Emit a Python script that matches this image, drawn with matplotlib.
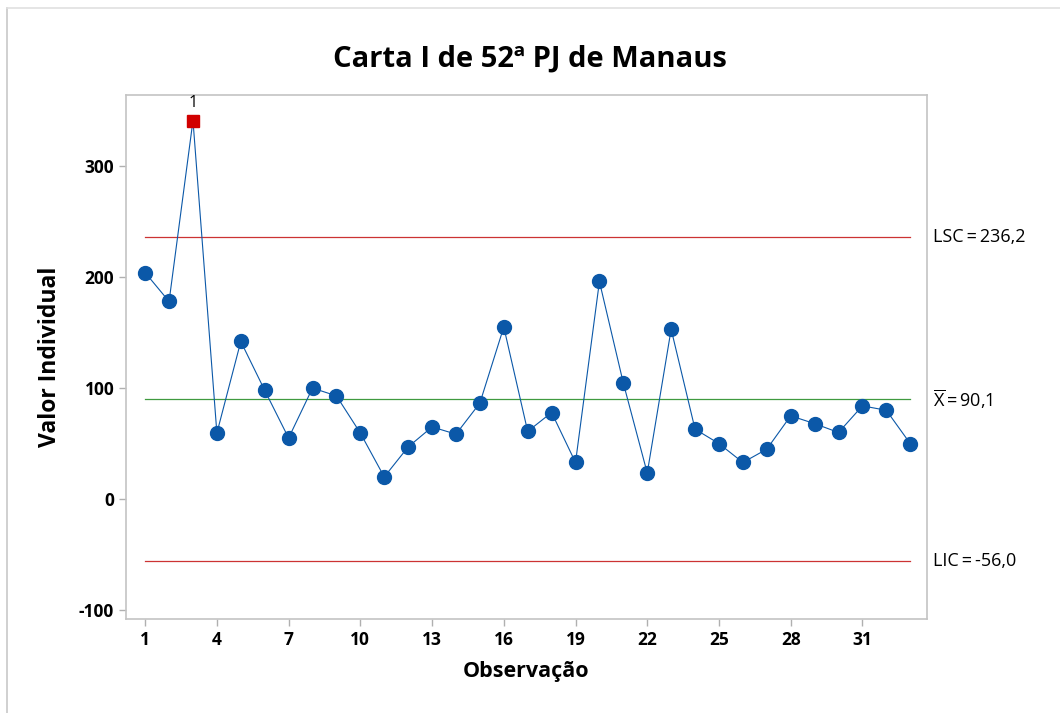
import matplotlib.pyplot as plt
from matplotlib.lines import Line2D

plt.rcParams['font.family'] = ['Open Sans', 'DejaVu Sans']
plt.rcParams['axes.unicode_minus'] = False
plt.rcParams['mathtext.fontset'] = 'custom'
plt.rcParams['mathtext.rm'] = 'Open Sans'

obs = list(range(1, 34))
values = [204, 178, 341, 59.5, 142, 98, 55, 100, 93, 59.5,
          20, 47, 65, 58.5, 86.5, 155, 61, 78, 33, 196,
          104.5, 23.5, 153, 63, 50, 33, 45, 75, 68, 60,
          84, 80, 50]
flagged = [3]
ucl = 236.2
center = 90.1
lcl = -56.0
xticks = [1, 4, 7, 10, 13, 16, 19, 22, 25, 28, 31]
yticks = [-100, 0, 100, 200, 300]

fig = plt.figure(figsize=(10.6, 7.13), dpi=100)
ax = fig.add_axes([0.1189, 0.1318, 0.7556, 0.735])

# border lines of the graph window
fig.add_artist(Line2D([7/1060, 7/1060], [0, 1 - 8/713], transform=fig.transFigure, color='#c8c8c8', lw=1.2))
fig.add_artist(Line2D([7/1060, 1], [1 - 8/713, 1 - 8/713], transform=fig.transFigure, color='#e0e0e0', lw=1.2))

blue = '#0b58a8'
ax.plot(obs, values, color=blue, lw=0.8, zorder=2)
normal = [(o, v) for o, v in zip(obs, values) if o not in flagged]
ax.plot([p[0] for p in normal], [p[1] for p in normal], 'o', color=blue, ms=10, zorder=3)
for f in flagged:
    ax.plot(f, values[f - 1], 's', color='#d10000', ms=8.5, zorder=4)
    ax.text(f, values[f - 1] + 9, '1', ha='center', va='bottom', fontsize=11.5)

ax.plot([obs[0], obs[-1]], [ucl, ucl], color='#cc3333', lw=0.9, zorder=1)
ax.plot([obs[0], obs[-1]], [lcl, lcl], color='#cc3333', lw=0.9, zorder=1)
ax.plot([obs[0], obs[-1]], [center, center], color='#3f9a3f', lw=0.9, zorder=1)

ax.set_xlim(0.2, 33.7)
ax.set_ylim(-108, 364)
ax.set_xticks(xticks)
ax.set_yticks(yticks)
ax.tick_params(axis='both', colors='#b0b0b0', length=5, width=1, labelcolor='black', labelsize=12.5)
for lab in ax.get_xticklabels() + ax.get_yticklabels():
    lab.set_fontweight('bold')
for s in ax.spines.values():
    s.set_color('#c4c4c4')
    s.set_linewidth(1.2)

tr = ax.get_yaxis_transform()
ax.text(1.008, ucl, 'LSC\u2009=\u2009236,2', transform=tr, va='center', ha='left', fontsize=13)
ax.text(1.008, center, r'$\overline{\mathrm{X}}$' + '\u2009=\u200990,1', transform=tr, va='center', ha='left', fontsize=13)
ax.text(1.008, lcl, 'LIC\u2009=\u2009-56,0', transform=tr, va='center', ha='left', fontsize=13)

ax.set_xlabel('Observação', fontsize=15.5, fontweight='bold', labelpad=9)
ax.set_ylabel('Valor Individual', fontsize=16.5, fontweight='bold', labelpad=12)
fig.text(0.5, 1 - 59/713, 'Carta I de 52ª PJ de Manaus', ha='center', va='center', fontsize=21, fontweight='bold')

fig.savefig('out.png', dpi=100)
